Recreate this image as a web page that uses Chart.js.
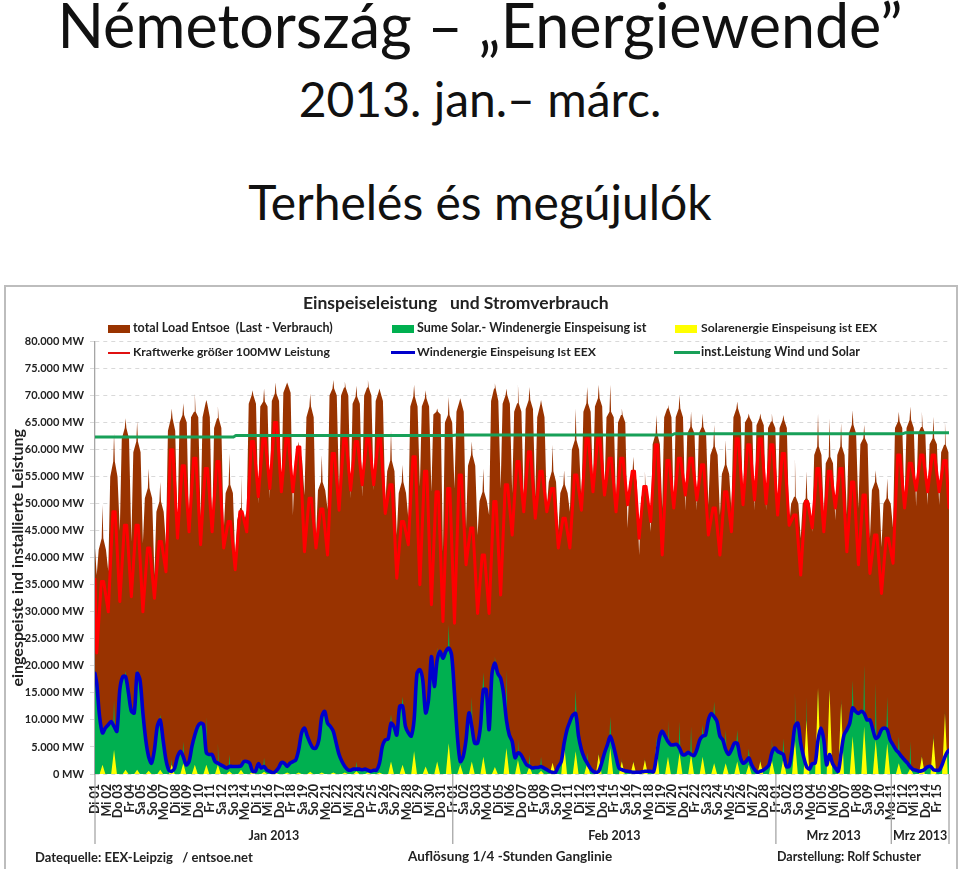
<!DOCTYPE html>
<html>
<head>
<meta charset="utf-8">
<title>Németország – Energiewende</title>
<script src="https://cdn.jsdelivr.net/npm/chart.js@4/dist/chart.umd.min.js"></script>
<style>
  html, body { margin: 0; padding: 0; background: #fff; overflow: hidden; }
  #page { position: relative; width: 960px; height: 869px; font-family: Lato, "Open Sans", sans-serif; color: #111; }
  .head { position: absolute; left: 0; width: 960px; text-align: center; font-size: 48px; line-height: 60px; white-space: pre; }
  #frame { position: absolute; left: 4px; top: 285px; width: 950px; height: 582px; border: 2px solid #bdbdbd; background: #fff; }
  canvas { position: absolute; left: 0; top: 0; }
  .txt { position: absolute; font-weight: bold; font-size: 12.5px; line-height: 16px; white-space: pre; color: #222; }
  .sw { position: absolute; }
</style>
</head>
<body>
<div id="page">
  <div class="head" style="top:-5px;font-size:61px">Németország – „Energiewende”</div>
  <div class="head" style="top:69px">2013. jan.– márc.</div>
  <div class="head" style="top:172px">Terhelés és megújulók</div>
  <div id="frame"></div>
  <canvas id="chart" width="960" height="869"></canvas>

  <div class="txt" style="left:303px;top:293px;font-size:17.5px;line-height:20px">Einspeiseleistung   und Stromverbrauch</div>

  <div class="sw" style="left:108px;top:325px;width:22px;height:8px;background:#993300"></div>
  <div class="txt" style="left:133px;top:320px">total Load Entsoe  (Last - Verbrauch)</div>
  <div class="sw" style="left:392px;top:325px;width:22px;height:8px;background:#00b050"></div>
  <div class="txt" style="left:417px;top:320px">Sume Solar.- Windenergie Einspeisung ist</div>
  <div class="sw" style="left:675px;top:325px;width:22px;height:8px;background:#ffff00"></div>
  <div class="txt" style="left:701px;top:320px;font-size:12.2px">Solarenergie Einspeisung ist EEX</div>

  <div class="sw" style="left:108px;top:352px;width:22px;height:2px;background:#e01010"></div>
  <div class="txt" style="left:133px;top:344px;font-size:12.2px">Kraftwerke größer 100MW Leistung</div>
  <div class="sw" style="left:391px;top:351px;width:24px;height:3px;background:#0000cc"></div>
  <div class="txt" style="left:417px;top:344px;font-size:12.2px">Windenergie Einspeisung Ist EEX</div>
  <div class="sw" style="left:674px;top:351px;width:26px;height:3px;background:#18a058"></div>
  <div class="txt" style="left:701px;top:344px">inst.Leistung Wind und Solar</div>

  <div class="txt" style="left:35px;top:849px;font-size:13px">Datequelle: EEX-Leipzig   / entsoe.net</div>
  <div class="txt" style="left:408px;top:848px;font-size:13.5px">Auflösung 1/4 -Stunden Ganglinie</div>
  <div class="txt" style="left:777px;top:849px">Darstellung: Rolf Schuster</div>
</div>

<script>
// everything in thousand MW, one entry per day from 1 Jan to 15 Mar
var dayLabels = [
  'Di 01','Mi 02','Do 03','Fr 04','Sa 05','So 06','Mo 07','Di 08','Mi 09','Do 10','Fr 11','Sa 12','So 13','Mo 14','Di 15','Mi 16','Do 17','Fr 18','Sa 19','So 20','Mo 21','Di 22','Mi 23','Do 24','Fr 25','Sa 26','So 27','Mo 28','Di 29','Mi 30','Do 31',
  'Fr 01','Sa 02','So 03','Mo 04','Di 05','Mi 06','Do 07','Fr 08','Sa 09','So 10','Mo 11','Di 12','Mi 13','Do 14','Fr 15','Sa 16','So 17','Mo 18','Di 19','Mi 20','Do 21','Fr 22','Sa 23','So 24','Mo 25','Di 26','Mi 27','Do 28',
  'Fr 01','Sa 02','So 03','Mo 04','Di 05','Mi 06','Do 07','Fr 08','Sa 09','So 10','Mo 11','Di 12','Mi 13','Do 14','Fr 15'
];

// total load: night low, shoulder next to the spike, midday spike, shoulder further out
var loadTroughs = [
  36.8,37.5,45,43,42.7,36.8,42.4,45.5,45.1,47.3,
  45.1,44.8,39.9,48.8,50,51,51.9,47.9,51.6,43.6,
  49,52.2,51,51.3,52.5,50,44.2,47.3,53.2,52.2,
  41.1,52.8,45.5,44.2,47.9,52.8,52,51,51.3,49.2,
  45.1,48.5,50.4,53.5,52.2,49.8,45.5,40.5,44.8,49.2,
  49.2,48.8,48.8,49.8,47.9,48.8,49.8,48.8,48.8,49.2,
  46,43.6,44.8,48,47,48,49.2,43.6,42,45.5,
  50.4,49.5,49.8,49.8
];
var loadMornings = [
  43.6,57.8,64,61.5,52.9,50.4,65.8,66.4,67,68.6,
  65.8,53.5,49.2,70.1,68.9,70.4,72,60.2,68,54,
  71.3,71.5,69.8,71.5,70.7,58,54,69.8,69.5,67,
  66.4,68.9,59,52.2,71.3,70.1,68.6,69.2,68.3,56,
  53.5,61.8,68.6,69.5,67,66.4,56,52.9,63,67.6,
  67.6,64.2,64.2,60.6,57.2,67.6,66,65.8,65.2,65.5,
  51.3,51,60.6,58.7,60.6,64.6,62.1,54,51,65.2,
  65.5,64.2,62.1,60.9
];
var loadPeaks = [
  49.8,63,65.8,65.2,56.5,54,67.6,68.6,70.4,69.2,
  68,59.3,55.3,71,71.3,72.4,72.4,61.5,70.4,59,
  72.9,72.6,71.8,72.9,71.3,63.6,57.2,72,71,67.6,
  69.8,69.5,61.5,56.5,72.3,71.3,72,71.6,69.2,60.9,
  56.2,67.6,71.6,72,72,67.6,58.7,56,66.4,68.3,
  70.1,67,66.7,64.6,61.8,68.9,66.7,66.7,66.7,66.4,
  58.4,56,66.7,65.8,64.9,67.3,64.6,56.2,54.7,67,
  68,67,66.1,65.2
];
var loadEvenings = [
  41.5,55,62,59.5,51,48.5,63.5,65,66,66,
  64,52,47,68.5,68,69,70.5,58,66,52.5,
  70,70,68.5,70,69,56,52,68,68,66.5,
  65,67,57,50.5,69,68.5,67,67.5,66,54,
  52,60,67,68,66,65,54,51,61,66,
  66,63,63,59,55.5,66,65,64.5,64,64,
  50,50,59,57.5,59,63,61,52.5,50,64,
  64,63,61,59.5
];

// power plants > 100 MW: daily low and high of the red line
var plantLows = [
  22.4,30,31.9,32.8,30,32.5,37.4,43.6,44.8,42.4,
  44.8,41.8,37.8,44.8,51.3,52.8,52.2,52.2,41.1,41.8,
  40.5,48.8,52.5,53.5,53.5,48.2,36.2,42.4,35,31.3,
  28.2,27.9,38.7,29.7,29.7,33.1,44.2,48.5,47.3,48.5,
  41.8,41.8,48.8,52.2,51.6,48.5,49.8,43.6,46.7,40.5,
  49.2,51.6,50.7,44.2,40.5,44.8,49.8,50.7,50,47.9,
  46,36.8,45.5,44.8,49.2,41.1,38.7,37.1,33.4,39,
  49.2,52.5,52.2,52.2
];
var plantHighs = [
  35.6,48.5,46,46,41.8,43,60,57,58.4,56.5,
  57.8,46.7,48.5,61.5,62,65,62,60.5,51,49,
  59.3,62,61.5,62,62,53.5,46.7,58.7,56,52.2,
  52.8,55.3,45.5,40.5,50.4,53.5,57.8,59.6,56,52.8,
  47.3,55.3,62,62,58.4,58.4,56,53.2,60.9,58,
  58.4,58.4,57.2,49.2,52.2,62,60.9,62,60.9,59.3,
  47.9,50.4,56.5,56,56.5,54,51.6,44.2,43.6,59,
  57.5,59,59,58
];

// wind feed-in, four readings a day (blue line)
var windValues = [
  16.8,10.6,7.6,8.5, 9.1,9.7,8.8,7.9, 15.6,18,18,15, 11.6,11.3,18.6,17.4, 11.3,6.3,3.2,2,
  4.5,8.8,10,6.3, 2.6,.7,.5,1.1, 3.2,4.2,3.2,1.7, 2.3,5.1,7.2,8.8, 9.4,9.1,3.9,3.6,
  3.6,2.3,2,1.7, 1.4,1.1,1.4,1.4, 1.4,1.4,1.5,2.3, 2.3,2,.5,.5, 1.9,1.1,1.4,.7,
  .5,.2,.5,1.1, 2.1,2,1.4,2, 2.3,2.6,4.5,7.6, 8.5,7,5.7,4.8, 4.8,6.3,10.6,11.6,
  9.4,8.8,7.9,5.7, 3.6,2.3,1.4,.8, .7,.9,.9,.9, .8,.9,.7,.5, .7,.7,2,5.1,
  6.3,6.5,9.4,8.8, 7.2,12.5,12.6,8.8, 7.6,7,10,18.6, 19.3,17.4,11.3,13.7, 21.7,16.2,21.1,22.7,
  21.4,22.7,23.3,22, 14.9,7,2.3,3.2, 6.3,11.3,8.8,5.7, 5.7,8.8,15.6,15.6, 8.2,18.6,20.5,18.6,
  17.7,14.9,10,7.2, 6,3,3.9,3.6, 2.6,1.7,1.4,1.1, 1.2,1.2,1.4,1.1, .8,.5,.3,.3,
  1.4,2.3,5.7,8.2, 9.7,10.9,11.2,7, 4.5,3,2,1.1, .5,.3,.5,2, 3.9,5.4,7,5.4,
  3.2,1.1,.8,.6, .5,.4,.3,.3, .3,.4,.5,.5, .5,.4,3.2,6.6, 7.9,7,6,5.4,
  5.4,5.5,4.8,3.6, 3.6,4,3.6,3.4, 4.5,6.3,7,7.2, 10,11.2,10.6,9.7, 7,6.3,4.5,3.6,
  4.5,5.7,5.7,3.2, 2,2.3,3,1.7, .8,.3,.5,.7, 1.1,1.7,3.9,4.8, 4.2,3.9,3.6,1.4,
  1.4,4.5,8.8,9.4, 5.7,3.2,1.4,.9, 1.9,2,6.3,8.5, 6.3,1.7,3.6,2, 1.1,.5,3.9,7.2,
  8.2,9.4,12.2,11.6, 11.2,11.6,11.2,10, 10,8.2,6.6,7, 8.2,8.5,8.2,6.3, 5.4,4.5,3.9,3.2,
  2.6,2,1.3,.8, .7,.5,.6,.9, 1.3,1.4,.8,.7, .7,1.7,3.2,4.2
];

// midday tip of the green sum area and of the yellow solar area
var sumPeaks = [
  9.3,13.7,19,19.3,3.8,10.9,2.8,6,8.9,10.6,
  5.7,3.6,3,1.5,3,.9,1.8,4.9,5.9,10.8,
  8.2,1.6,2.3,.9,2.4,11,14.3,11,12.5,23.4,
  27.6,4,14.3,18.8,21.7,19.3,6.5,3.6,3.2,2.1,
  7.6,15.6,4,4,10.6,3,2.5,3.1,7,10,
  9.7,8.8,9.1,13.4,8.2,8.2,4.7,2.8,6.5,6.6,
  15,14.3,16,15.8,14,17.4,20.2,16.8,14.3,7,
  6,3.8,7.6,12.5
];
var solarPeaks = [
  1.7,4.5,.8,.8,.6,.8,1.7,2,1.7,1.7,
  1.7,.5,.8,.5,.4,.3,.3,.3,.4,.3,
  .3,.3,.5,.3,.3,2.3,1.7,4.2,1.4,2.3,
  5.7,1.7,2.3,3.2,1.3,4.8,2.6,1.4,.6,2.1,
  5.7,4.2,2,3.6,4.8,2.3,2.2,2.6,5.7,3.2,
  3.9,3.6,3.2,2,2,2.3,1.7,2.3,2.6,2.9,
  6.3,10,15.9,15.6,13.1,7,8.8,6.3,5.7,2,
  1,3.2,6.6,11.2
];

// installed wind + solar capacity, steps up during the quarter
var instDays = [0, 12, 12.2, 31, 31.3, 50, 50.2, 70, 70.2, 74];
var instValues = [62.35, 62.35, 62.6, 62.6, 62.7, 62.7, 62.95, 62.95, 63.1, 63.1];

var yTicks = [0,5,10,15,20,25,30,35,40,45,50,55,60,65,70,75,80];
var monthStarts = [0, 31, 59, 69, 74];
var monthNames = ['Jan 2013', 'Feb 2013', 'Mrz 2013', 'Mrz 2013'];

var labelFont = 'Lato, "Open Sans", sans-serif';

var loadLine = [{x: 0, y: 41.8}];
var plantLine = [{x: 0, y: 36}];
var sumLine = [{x: 0, y: 18.6}];
var windLine = [{x: 0, y: 18.6}];
var solarLine = [];
dayLabels.forEach(function (name, d) {
  loadLine.push({x: d + 0.15, y: loadTroughs[d]});
  loadLine.push({x: d + 0.32, y: loadEvenings[d]});
  loadLine.push({x: d + 0.58, y: loadMornings[d]});
  loadLine.push({x: d + 0.65, y: loadPeaks[d]});
  loadLine.push({x: d + 0.72, y: loadMornings[d]});
  loadLine.push({x: d + 0.95, y: loadEvenings[d]});

  // red line has a short flat top around midday
  plantLine.push({x: d + 0.15, y: plantLows[d]});
  plantLine.push({x: d + 0.55, y: plantHighs[d]});
  plantLine.push({x: d + 0.75, y: plantHighs[d]});

  var w = windValues.slice(d * 4, d * 4 + 4);
  windLine.push({x: d + 0.15, y: w[0]}, {x: d + 0.4, y: w[1]}, {x: d + 0.65, y: w[2]}, {x: d + 0.9, y: w[3]});
  sumLine.push({x: d + 0.15, y: w[0]}, {x: d + 0.4, y: w[1]}, {x: d + 0.58, y: w[2]},
    {x: d + 0.65, y: sumPeaks[d]}, {x: d + 0.72, y: w[2]}, {x: d + 0.9, y: w[3]});
  solarLine.push({x: d + 0.4, y: 0}, {x: d + 0.65, y: solarPeaks[d]}, {x: d + 0.9, y: 0});
});
loadLine.push({x: 74, y: 49.2});
plantLine.push({x: 74, y: 49.2});
sumLine.push({x: 74, y: 4.4});
windLine.push({x: 74, y: 4.4});

var instLine = instDays.map(function (d, i) { return {x: d, y: instValues[i]}; });

// month separators under the axis and the month names between them
var monthMarks = {
  id: 'monthMarks',
  afterDraw: function (chart) {
    var ctx = chart.ctx, xs = chart.scales.x;
    ctx.save();
    ctx.strokeStyle = '#a6a6a6';
    ctx.lineWidth = 1.3;
    ctx.fillStyle = '#222';
    ctx.font = 'bold 12.5px ' + labelFont;
    ctx.textAlign = 'center';
    ctx.textBaseline = 'middle';
    monthStarts.forEach(function (d, i) {
      var px = xs.getPixelForValue(d);
      ctx.beginPath();
      ctx.moveTo(px, chart.chartArea.bottom);
      ctx.lineTo(px, 844);
      ctx.stroke();
      if (i < monthNames.length) {
        var mid = (px + xs.getPixelForValue(monthStarts[i + 1])) / 2;
        ctx.fillText(monthNames[i], mid, 836);
      }
    });
    ctx.restore();
  }
};

function flatLine(label, data, color, width) {
  return {label: label, data: data, borderColor: color, backgroundColor: color, borderWidth: width,
    pointRadius: 0, fill: false, tension: 0, borderJoinStyle: 'round', borderCapStyle: 'round'};
}
function areaLine(label, data, color) {
  return {label: label, data: data, borderColor: color, backgroundColor: color, borderWidth: 0,
    pointRadius: 0, fill: 'origin', tension: 0};
}

// first dataset ends up on top
var windSet = flatLine('Windenergie Einspeisung Ist EEX', windLine, '#0000cc', 3.6);
windSet.tension = 0.3;

new Chart(document.getElementById('chart'), {
  type: 'line',
  data: {
    datasets: [
      flatLine('inst.Leistung Wind und Solar', instLine, '#18a058', 3),
      windSet,
      areaLine('Solarenergie Einspeisung ist EEX', solarLine, '#ffff00'),
      areaLine('Sume Solar.- Windenergie Einspeisung ist', sumLine, '#00b050'),
      flatLine('Kraftwerke größer 100MW Leistung', plantLine, '#ff0000', 3),
      areaLine('total Load Entsoe (Last - Verbrauch)', loadLine, '#993300')
    ]
  },
  options: {
    responsive: false,
    animation: false,
    parsing: false,
    normalized: true,
    layout: {padding: {top: 341.5, right: 11, left: 0, bottom: 0}},
    plugins: {legend: {display: false}, title: {display: false}, tooltip: {enabled: false}},
    scales: {
      x: {
        type: 'linear',
        min: 0,
        max: 74,
        afterFit: function (s) { s.height = 95; },
        afterBuildTicks: function (s) {
          s.ticks = dayLabels.map(function (n, d) { return {value: d}; });
        },
        grid: {display: false},
        border: {display: false},
        ticks: {
          autoSkip: false,
          maxRotation: 90,
          minRotation: 90,
          padding: 2,
          color: '#222',
          font: {family: labelFont, weight: 'bold', size: 12.5},
          callback: function (v) { return dayLabels[v]; }
        }
      },
      y: {
        min: 0,
        max: 80,
        afterFit: function (s) { s.width = 95; },
        afterBuildTicks: function (s) {
          s.ticks = yTicks.map(function (v) { return {value: v}; });
        },
        grid: {color: '#d9d9d9', tickLength: 5},
        border: {display: true, color: '#a6a6a6', width: 1.3, dash: [4, 4]},
        title: {
          display: true,
          text: 'eingespeiste ind installierte Leistung',
          color: '#222',
          font: {family: labelFont, weight: 'bold', size: 16},
          padding: {top: 8, bottom: 0}
        },
        ticks: {
          color: '#222',
          padding: 6,
          font: {family: labelFont, weight: 'bold', size: 11},
          callback: function (v) { return v == 0 ? '0 MW' : v + '.000 MW'; }
        }
      }
    }
  },
  plugins: [monthMarks]
});
</script>
</body>
</html>
